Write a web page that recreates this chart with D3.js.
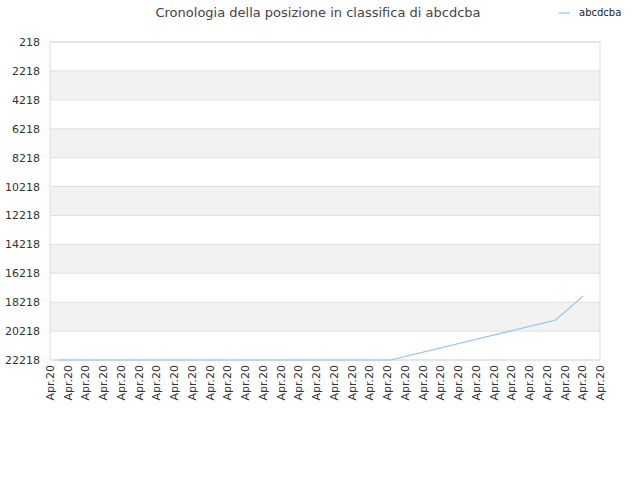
<!DOCTYPE html>
<html><head><meta charset="utf-8">
<script src="https://cdn.jsdelivr.net/npm/d3@7"></script>
<style>body{margin:0;background:#fff;font-family:"DejaVu Sans",sans-serif}</style>
</head><body><div id="chart"></div>
<script>
// data
const tickLabels = d3.range(32).map(() => "Apr.20");
const yTicks = d3.range(218, 22219, 2000);
const pointPos = [0.45, 19.2, 28.5, 30.05];   // position along the label axis
const positions = [22218, 22218, 19450, 17800];

const margin = { top: 42, right: 40, bottom: 120, left: 50 };
const width = 640 - margin.left - margin.right;
const height = 480 - margin.top - margin.bottom;

const svg = d3.select("#chart").append("svg")
    .attr("width", 640).attr("height", 480);
const g = svg.append("g").attr("transform", `translate(${margin.left},${margin.top})`);

const x = d3.scaleLinear().domain([0, tickLabels.length - 1]).range([0, width]);
const y = d3.scaleLinear().domain([218, 22218]).range([0, height]);

// bands
yTicks.slice(0, -1).forEach((t, i) => {
    g.append("rect")
        .attr("x", 0).attr("y", y(t)).attr("width", width)
        .attr("height", y(t + 2000) - y(t))
        .attr("fill", i % 2 ? "#f2f2f2" : "#fff");
});
yTicks.forEach(t => {
    g.append("line").attr("x1", 0).attr("x2", width)
        .attr("y1", y(t)).attr("y2", y(t)).attr("stroke", "#e0e0e0");
});
g.append("rect").attr("width", width).attr("height", height)
    .attr("fill", "none").attr("stroke", "#ddd");

// y labels
g.selectAll(".yl").data(yTicks).enter().append("text")
    .attr("x", -10).attr("y", d => y(d) + 4)
    .attr("text-anchor", "end").attr("font-size", 11).attr("fill", "#333")
    .text(d => d);

// x labels
g.selectAll(".xl").data(tickLabels).enter().append("text")
    .attr("transform", (d, i) => `translate(${x(i) + 4},${height + 5}) rotate(-90)`)
    .attr("text-anchor", "end").attr("font-size", 11).attr("fill", "#333")
    .text(d => d);

// line
const line = d3.line().x((d, i) => x(pointPos[i])).y(d => y(d));
g.append("path").datum(positions)
    .attr("fill", "none").attr("stroke", "#90c4f4").attr("stroke-width", 1.2)
    .attr("d", line);

// title
svg.append("text").attr("x", 318).attr("y", 17).attr("text-anchor", "middle")
    .attr("font-size", 13).attr("fill", "#444")
    .text("Cronologia della posizione in classifica di abcdcba");

// legend
svg.append("line").attr("x1", 559).attr("x2", 570).attr("y1", 13).attr("y2", 13)
    .attr("stroke", "#90c4f4").attr("stroke-width", 1.2);
svg.append("text").attr("x", 579).attr("y", 16).attr("font-size", 10).attr("fill", "#222")
    .text("abcdcba");
</script></body></html>
